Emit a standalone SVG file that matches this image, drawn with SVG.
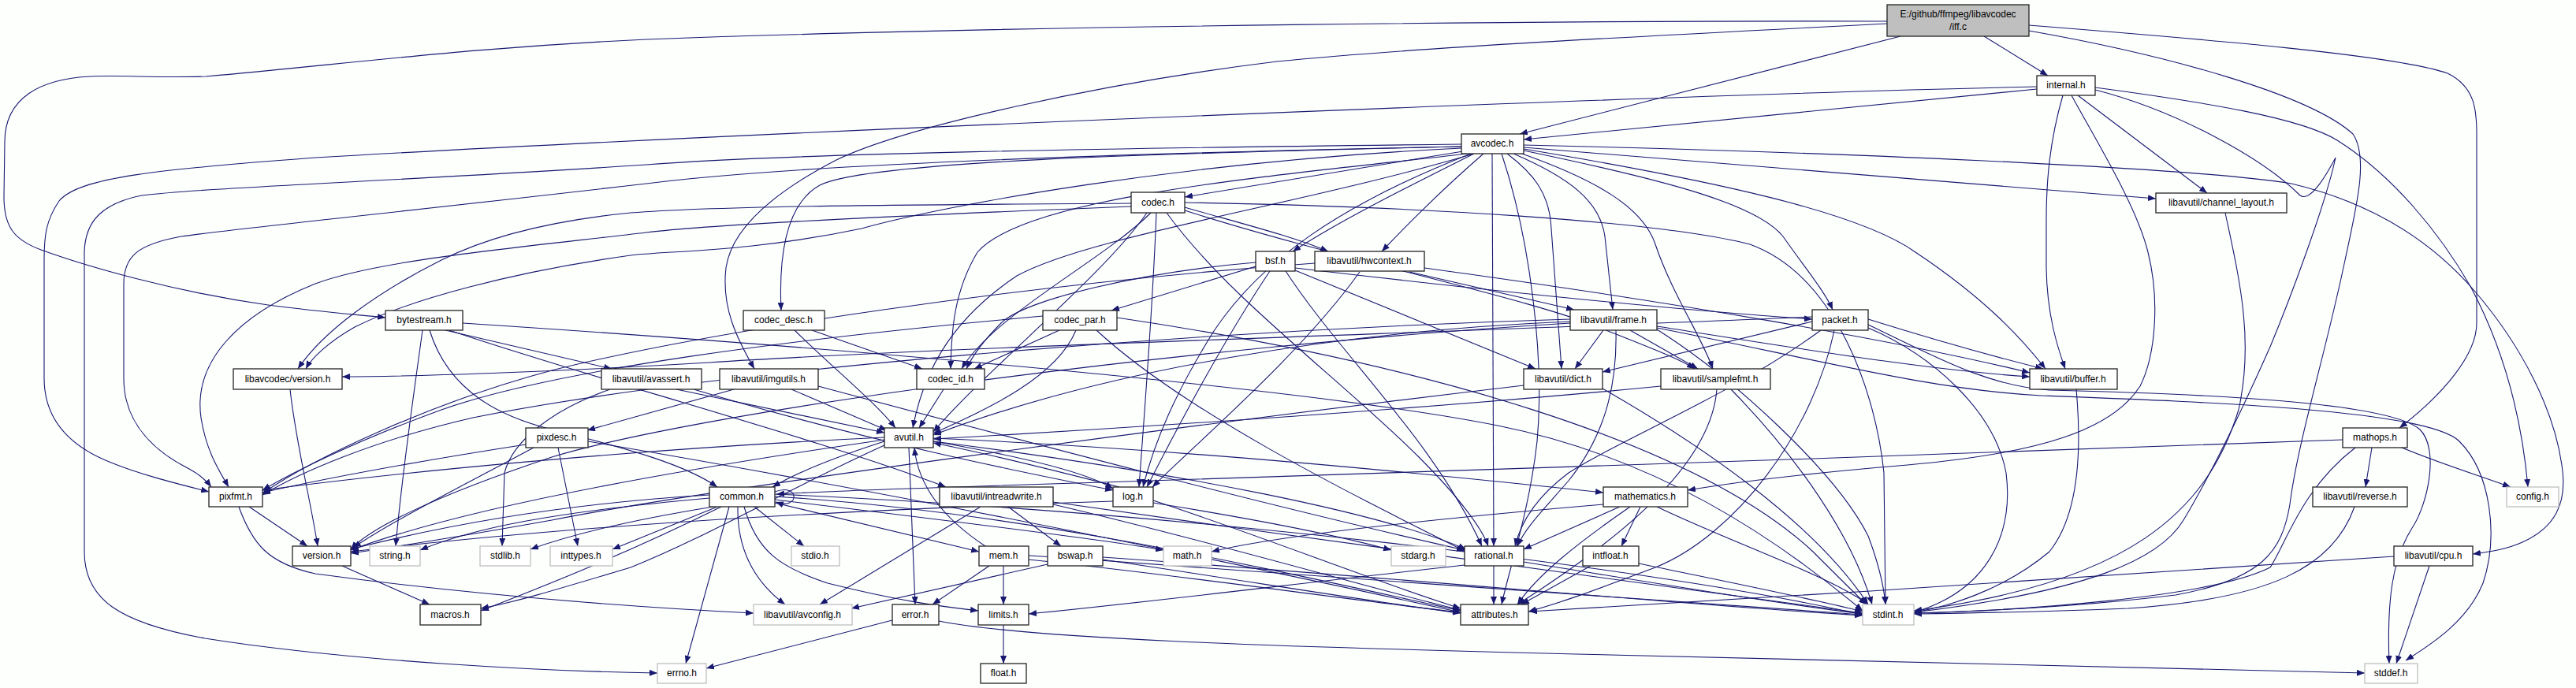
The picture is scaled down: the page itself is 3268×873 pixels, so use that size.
<svg xmlns="http://www.w3.org/2000/svg" width="3268" height="873" viewBox="0 0 3268 873">
<style>
.bg{fill:#fdfffd}
.n rect{fill:#fff;stroke:#222;stroke-width:1.3}
.n.l rect{stroke:#bfbfbf}
.n.g rect{fill:#bfbfbf}
.n text{font-family:"Liberation Sans",Arial,sans-serif;font-size:12px;fill:#000;text-anchor:middle}
.e path{fill:none;stroke:#191970;stroke-width:1.1;marker-end:url(#a)}
</style>
<defs>
<marker id="a" viewBox="0 0 10 8" refX="10" refY="4" markerWidth="10" markerHeight="8" markerUnits="userSpaceOnUse" orient="auto"><path d="M0,0L10,4L0,8z" fill="#191970"/></marker>
</defs>
<rect class="bg" width="3268" height="873"/>
<g id="edges" class="e">
<path d="M2517,46 L2598,96"/>
<path d="M2411,46 L1928,170"/>
<path d="M2394,27 C2000,26 1300,32 820,50 C600,60 450,80 261,97 C200,99 150,95 115,97 C50,100 6,125 6,180 L5,250 C5,290 20,305 52,317 C110,338 220,370 340,387 C400,395 450,399 489,403"/>
<path d="M2394,30 C2100,45 1800,60 1620,78 C1400,105 1150,160 1061,203 C980,245 928,290 921,340 C915,390 935,430 957,468"/>
<path d="M2574,39 C2750,70 2930,120 2985,170 C3005,200 2990,260 2975,330 C2950,450 2915,560 2905,640 C2895,700 2870,735 2760,755 C2620,772 2500,776 2428,778"/>
<path d="M2574,32 C2800,50 3040,70 3105,93 C3140,110 3142,140 3142,170 L3142,410 C3142,450 3100,500 3044,543"/>
<path d="M2584,113 L1933,177"/>
<path d="M2584,110 C2200,118 1000,165 400,200 C200,215 100,225 75,255 C58,280 56,300 56,330 L56,480 C56,530 85,565 141,587 C180,603 230,615 265,624"/>
<path d="M2617,121 C2600,180 2596,230 2596,280 L2596,340 C2597,400 2610,440 2620,468"/>
<path d="M2636,121 L2800,245"/>
<path d="M2628,121 C2660,180 2710,260 2725,320 C2740,380 2735,450 2715,490 C2680,545 2590,575 2420,590 C2300,600 2200,612 2141,622"/>
<path d="M2658,114 C2760,140 2870,200 2918,248 C2932,258 2955,215 2963,200 C2950,260 2905,380 2880,440 C2840,530 2800,610 2770,660 C2740,710 2650,750 2428,777"/>
<path d="M2658,111 C2800,130 2920,150 2965,178 C3035,222 3095,295 3135,365 C3180,450 3200,540 3207,618"/>
<path d="M1856,192 L1503,250"/>
<path d="M1854,183 C1400,188 1000,195 820,209 C500,230 260,238 180,248 C130,258 108,280 107,320 L107,700 C107,760 150,790 260,810 C450,840 700,852 834,854"/>
<path d="M1854,186 C1400,195 1000,210 820,233 C500,270 300,290 230,300 C175,310 157,325 157,360 L157,480 C157,540 200,575 240,595 C255,603 262,610 268,618"/>
<path d="M1854,188 C1500,205 1200,260 1093,290 C950,320 850,318 800,324 C650,345 520,380 450,415 C415,435 395,455 388,468"/>
<path d="M1854,186 C1450,195 1100,205 1040,235 C995,260 988,330 991,394"/>
<path d="M1862,195 C1600,225 1300,250 1240,320 C1210,370 1207,420 1206,468"/>
<path d="M1870,195 C1650,260 1380,300 1290,350 C1200,410 1170,480 1158,543"/>
<path d="M1866,195 C1700,260 1600,330 1540,420 C1490,500 1465,560 1450,618"/>
<path d="M1870,195 C1780,240 1700,280 1640,319"/>
<path d="M1882,195 C1830,240 1790,280 1753,319"/>
<path d="M1893,195 L1895,693"/>
<path d="M1905,195 C1940,300 1960,450 1950,560 C1940,650 1915,720 1905,767"/>
<path d="M1912,195 C1945,220 1966,245 1968,290 L1981,468"/>
<path d="M1920,195 C1990,225 2030,255 2036,300 L2046,393"/>
<path d="M1928,194 C2030,230 2085,265 2100,310 C2120,370 2160,430 2173,468"/>
<path d="M1933,191 C2120,230 2230,260 2262,300 C2290,340 2315,370 2325,393"/>
<path d="M1933,189 C2180,230 2360,270 2430,320 C2520,380 2565,430 2595,468"/>
<path d="M1933,187 L2735,252"/>
<path d="M1933,184 C2400,195 2800,215 2907,233 C3000,255 3080,300 3140,370 C3200,440 3240,520 3250,590 C3258,640 3240,670 3200,688 C3180,697 3160,700 3137,703"/>
<path d="M1455,270 C1400,350 1250,470 1184,548"/>
<path d="M1503,263 C1580,285 1640,300 1685,319"/>
<path d="M1467,270 C1462,400 1452,520 1445,618"/>
<path d="M1435,262 C1100,275 900,285 820,295 C650,315 480,330 400,360 C300,400 245,460 255,530 C262,575 280,600 290,618"/>
<path d="M1480,270 C1560,380 1700,480 1800,580 C1850,630 1880,670 1888,693"/>
<path d="M1503,267 C1700,330 1950,380 2040,420 C2090,440 2130,455 2150,468"/>
<path d="M1503,257 C1800,262 2100,280 2220,310 C2330,350 2380,500 2390,600 L2392,767"/>
<path d="M1460,270 C1400,330 1260,400 1220,468"/>
<path d="M1435,258 C1100,260 900,262 800,270 C700,280 620,300 560,330 C480,370 410,420 378,468"/>
<path d="M1008,419 C1060,470 1110,510 1136,543"/>
<path d="M1030,419 L1170,468"/>
<path d="M1197,494 L1166,543"/>
<path d="M1344,419 L1236,468"/>
<path d="M1365,419 C1340,480 1250,520 1184,550"/>
<path d="M1391,419 C1500,520 1700,620 1860,700"/>
<path d="M1323,401 C1000,430 700,470 560,520 C450,560 370,600 333,622"/>
<path d="M1417,403 C1800,460 2150,560 2300,700 C2340,740 2360,760 2368,767"/>
<path d="M1593,338 L1410,394"/>
<path d="M1593,333 C1450,345 1300,380 1270,410 C1245,435 1232,455 1226,468"/>
<path d="M1643,340 C1900,370 2150,395 2299,405"/>
<path d="M1643,343 L1948,468"/>
<path d="M1611,344 C1560,420 1500,530 1455,618"/>
<path d="M1631,344 C1700,450 1820,560 1880,693"/>
<path d="M1807,340 C2100,380 2400,430 2575,473"/>
<path d="M1788,345 L1997,393"/>
<path d="M1725,345 C1650,450 1520,560 1462,618"/>
<path d="M1668,334 C1300,360 900,420 700,470 C550,510 400,580 333,626"/>
<path d="M2370,412 C2450,450 2520,490 2600,495 C2800,500 3030,510 3070,545 C3095,570 3080,640 3060,670 C3035,710 3028,760 3031,842"/>
<path d="M2370,416 C2450,450 2530,520 2545,600 C2555,680 2520,750 2428,777"/>
<path d="M2310,419 C2200,500 2050,560 1990,600 C1950,630 1930,660 1922,693"/>
<path d="M2327,419 C2300,550 2200,680 2100,720 C2020,750 1980,765 1939,776"/>
<path d="M2370,405 C2450,430 2520,450 2592,468"/>
<path d="M2299,408 L2033,472"/>
<path d="M2299,402 C1900,420 1200,440 900,460 C700,472 520,478 434,478"/>
<path d="M1992,408 C1700,420 1400,470 1184,552"/>
<path d="M2102,414 C2300,445 2450,470 2575,478"/>
<path d="M2034,419 L1998,468"/>
<path d="M2068,419 L2154,468"/>
<path d="M2050,419 C2052,500 2030,560 1990,610 C1955,650 1935,670 1925,693"/>
<path d="M2102,418 C2200,480 2330,600 2370,680 C2385,720 2390,745 2392,767"/>
<path d="M2102,416 C2300,455 2450,495 2590,502 C2800,510 3080,520 3120,560 C3160,600 3170,680 3150,740 C3130,790 3080,820 3052,838"/>
<path d="M1992,405 C1500,420 900,470 600,530 C470,560 380,600 333,628"/>
<path d="M1992,410 C1500,440 900,520 700,580 C550,630 470,670 445,697"/>
<path d="M1933,489 C1500,540 900,620 700,660 C560,685 480,697 445,702"/>
<path d="M2033,493 C2150,560 2300,660 2370,767"/>
<path d="M2107,490 C1800,520 1400,545 1184,557"/>
<path d="M2178,494 C2170,600 2030,700 1925,767"/>
<path d="M2196,494 C2280,580 2350,680 2375,767"/>
<path d="M2634,494 C2640,560 2640,650 2600,700 C2540,750 2470,770 2428,777"/>
<path d="M2823,270 C2840,350 2860,430 2840,520 C2800,650 2700,740 2428,775"/>
<path d="M2972,558 C2500,575 1800,600 1400,612 C1200,618 1050,623 985,627"/>
<path d="M3009,568 L3001,618"/>
<path d="M3047,568 C3100,590 3150,605 3185,618"/>
<path d="M2988,568 C2920,620 2900,690 2880,720 C2800,760 2550,775 2428,778"/>
<path d="M2987,643 C2960,720 2880,760 2700,772 C2600,776 2500,778 2428,779"/>
<path d="M3037,706 C2700,730 2300,755 1940,776"/>
<path d="M3082,718 L3040,842"/>
<path d="M565,419 L776,468"/>
<path d="M545,419 C570,500 640,530 700,545 C800,570 870,590 910,618"/>
<path d="M570,419 C750,480 1050,560 1200,618"/>
<path d="M536,419 C525,500 510,600 502,693"/>
<path d="M587,410 C1200,450 1700,500 1900,540 C2100,580 2250,680 2363,775"/>
<path d="M858,494 L1122,549"/>
<path d="M880,494 C1100,560 1300,600 1412,622"/>
<path d="M774,494 C700,520 650,560 640,600 L637,693"/>
<path d="M1004,494 L1125,546"/>
<path d="M931,494 L745,546"/>
<path d="M1038,490 C1300,560 1600,640 1858,698"/>
<path d="M746,560 C1100,620 1500,700 1853,777"/>
<path d="M667,564 C500,590 400,610 333,625"/>
<path d="M677,568 C580,620 500,660 448,695"/>
<path d="M708,568 L733,693"/>
<path d="M1122,560 C1060,580 1010,600 980,618"/>
<path d="M1153,568 L1161,767"/>
<path d="M1184,560 C1500,600 1750,650 1860,697"/>
<path d="M1122,558 C900,590 600,640 445,698"/>
<path d="M1122,565 C1000,620 900,680 800,720 C700,750 650,765 610,772"/>
<path d="M1184,556 C1500,570 1800,600 2034,625"/>
<path d="M1184,560 C1300,580 1380,600 1412,620"/>
<path d="M1122,555 C800,570 500,600 333,622"/>
<path d="M1420,618 C1350,600 1250,575 1184,562"/>
<path d="M1412,636 C1000,650 700,670 445,700"/>
<path d="M1463,635 C1600,680 1750,740 1853,772"/>
<path d="M1463,638 C1600,660 1700,680 1765,698"/>
<path d="M900,628 C700,640 550,670 445,697"/>
<path d="M900,632 C700,650 600,670 533,698"/>
<path d="M905,643 C800,660 720,680 673,697"/>
<path d="M910,643 L777,697"/>
<path d="M915,643 C800,700 700,740 610,775"/>
<path d="M925,643 L870,842"/>
<path d="M936,643 C935,700 960,740 996,767"/>
<path d="M957,643 L1020,693"/>
<path d="M944,643 C960,700 990,720 1050,740 C1150,765 1200,770 1241,775"/>
<path d="M983,638 L1242,700"/>
<path d="M983,634 C1200,660 1400,685 1476,698"/>
<path d="M983,630 C1300,650 1600,720 1853,775"/>
<path d="M983,627 C1500,650 2100,720 2363,780"/>
<path d="M983,624 C1015,612 1015,648 984,637"/>
<path d="M1244,643 L1040,767"/>
<path d="M1279,643 L1346,693"/>
<path d="M1336,640 C1550,690 1750,750 1853,774"/>
<path d="M1336,637 C1700,690 2100,740 2363,778"/>
<path d="M1250,693 C1200,660 1165,620 1160,568"/>
<path d="M1255,718 L1183,767"/>
<path d="M1273,718 L1273,767"/>
<path d="M1305,710 C1500,730 1700,760 1853,777"/>
<path d="M1305,705 C1700,730 2100,760 2363,780"/>
<path d="M1329,716 L1080,772"/>
<path d="M1399,710 C1600,740 1750,765 1853,778"/>
<path d="M1399,707 C1800,735 2100,765 2363,781"/>
<path d="M1132,787 L896,848"/>
<path d="M1191,788 C1300,810 1600,820 2000,830 C2500,842 2800,850 3000,854"/>
<path d="M1273,793 L1273,842"/>
<path d="M2055,643 L1933,697"/>
<path d="M2081,643 L2057,693"/>
<path d="M2068,643 C2000,690 1950,730 1925,767"/>
<path d="M2102,643 C2200,690 2320,730 2370,767"/>
<path d="M2034,640 C1800,660 1620,680 1537,700"/>
<path d="M1895,718 L1895,767"/>
<path d="M1933,713 C2100,740 2250,765 2363,779"/>
<path d="M1858,717 C1650,740 1450,765 1305,779"/>
<path d="M2018,718 L1930,767"/>
<path d="M2079,715 C2200,740 2300,760 2363,776"/>
<path d="M368,494 C375,560 395,640 403,693"/>
<path d="M316,643 L390,693"/>
<path d="M303,643 C320,690 340,715 400,728 C600,755 800,770 956,778"/>
<path d="M434,718 L545,767"/>
</g>
<g id="n_iff" class="n g"><rect x="2394" y="6" width="180" height="40"/><text x="2484" y="22">E:/github/ffmpeg/libavcodec</text><text x="2484" y="38">/iff.c</text></g>
<g id="n_internal" class="n"><rect x="2584" y="96" width="74" height="25"/><text x="2621" y="112">internal.h</text></g>
<g id="n_avcodec" class="n"><rect x="1854" y="170" width="79" height="25"/><text x="1893" y="186">avcodec.h</text></g>
<g id="n_codec" class="n"><rect x="1435" y="244" width="68" height="26"/><text x="1469" y="261">codec.h</text></g>
<g id="n_channel_layout" class="n"><rect x="2735" y="245" width="166" height="25"/><text x="2818" y="261">libavutil/channel_layout.h</text></g>
<g id="n_bsf" class="n"><rect x="1593" y="319" width="50" height="25"/><text x="1618" y="335">bsf.h</text></g>
<g id="n_hwcontext" class="n"><rect x="1668" y="319" width="139" height="25"/><text x="1737" y="335">libavutil/hwcontext.h</text></g>
<g id="n_bytestream" class="n"><rect x="489" y="394" width="98" height="25"/><text x="538" y="410">bytestream.h</text></g>
<g id="n_codec_desc" class="n"><rect x="943" y="394" width="103" height="25"/><text x="994" y="410">codec_desc.h</text></g>
<g id="n_codec_par" class="n"><rect x="1323" y="394" width="94" height="25"/><text x="1370" y="410">codec_par.h</text></g>
<g id="n_frame" class="n"><rect x="1992" y="393" width="110" height="26"/><text x="2047" y="410">libavutil/frame.h</text></g>
<g id="n_packet" class="n"><rect x="2299" y="393" width="71" height="26"/><text x="2334" y="410">packet.h</text></g>
<g id="n_lavc_version" class="n"><rect x="296" y="468" width="138" height="26"/><text x="365" y="485">libavcodec/version.h</text></g>
<g id="n_avassert" class="n"><rect x="763" y="468" width="127" height="26"/><text x="826" y="485">libavutil/avassert.h</text></g>
<g id="n_imgutils" class="n"><rect x="913" y="468" width="125" height="26"/><text x="975" y="485">libavutil/imgutils.h</text></g>
<g id="n_codec_id" class="n"><rect x="1163" y="468" width="86" height="26"/><text x="1206" y="485">codec_id.h</text></g>
<g id="n_dict" class="n"><rect x="1933" y="468" width="100" height="26"/><text x="1983" y="485">libavutil/dict.h</text></g>
<g id="n_samplefmt" class="n"><rect x="2107" y="468" width="139" height="26"/><text x="2176" y="485">libavutil/samplefmt.h</text></g>
<g id="n_buffer" class="n"><rect x="2575" y="468" width="111" height="26"/><text x="2630" y="485">libavutil/buffer.h</text></g>
<g id="n_pixdesc" class="n"><rect x="667" y="543" width="79" height="25"/><text x="706" y="559">pixdesc.h</text></g>
<g id="n_avutil" class="n"><rect x="1122" y="543" width="62" height="25"/><text x="1153" y="559">avutil.h</text></g>
<g id="n_mathops" class="n"><rect x="2972" y="543" width="82" height="25"/><text x="3013" y="559">mathops.h</text></g>
<g id="n_pixfmt" class="n"><rect x="265" y="618" width="68" height="25"/><text x="299" y="634">pixfmt.h</text></g>
<g id="n_common" class="n"><rect x="900" y="618" width="83" height="25"/><text x="941" y="634">common.h</text></g>
<g id="n_intreadwrite" class="n"><rect x="1192" y="618" width="144" height="25"/><text x="1264" y="634">libavutil/intreadwrite.h</text></g>
<g id="n_log" class="n"><rect x="1412" y="618" width="51" height="25"/><text x="1437" y="634">log.h</text></g>
<g id="n_mathematics" class="n"><rect x="2034" y="618" width="107" height="25"/><text x="2087" y="634">mathematics.h</text></g>
<g id="n_reverse" class="n"><rect x="2934" y="618" width="120" height="25"/><text x="2994" y="634">libavutil/reverse.h</text></g>
<g id="n_config" class="n l"><rect x="3180" y="618" width="66" height="25"/><text x="3213" y="634">config.h</text></g>
<g id="n_version" class="n"><rect x="371" y="693" width="74" height="25"/><text x="408" y="709">version.h</text></g>
<g id="n_string" class="n l"><rect x="469" y="693" width="64" height="25"/><text x="501" y="709">string.h</text></g>
<g id="n_stdlib" class="n l"><rect x="609" y="693" width="64" height="25"/><text x="641" y="709">stdlib.h</text></g>
<g id="n_inttypes" class="n l"><rect x="698" y="693" width="79" height="25"/><text x="737" y="709">inttypes.h</text></g>
<g id="n_stdio" class="n l"><rect x="1004" y="693" width="61" height="25"/><text x="1034" y="709">stdio.h</text></g>
<g id="n_mem" class="n"><rect x="1242" y="693" width="63" height="25"/><text x="1273" y="709">mem.h</text></g>
<g id="n_bswap" class="n"><rect x="1329" y="693" width="70" height="25"/><text x="1364" y="709">bswap.h</text></g>
<g id="n_math" class="n l"><rect x="1476" y="693" width="61" height="25"/><text x="1506" y="709">math.h</text></g>
<g id="n_stdarg" class="n l"><rect x="1765" y="693" width="69" height="25"/><text x="1799" y="709">stdarg.h</text></g>
<g id="n_rational" class="n"><rect x="1858" y="693" width="75" height="25"/><text x="1895" y="709">rational.h</text></g>
<g id="n_intfloat" class="n"><rect x="2008" y="693" width="71" height="25"/><text x="2043" y="709">intfloat.h</text></g>
<g id="n_cpu" class="n"><rect x="3037" y="693" width="100" height="25"/><text x="3087" y="709">libavutil/cpu.h</text></g>
<g id="n_macros" class="n"><rect x="533" y="767" width="77" height="26"/><text x="571" y="784">macros.h</text></g>
<g id="n_avconfig" class="n l"><rect x="956" y="767" width="125" height="26"/><text x="1018" y="784">libavutil/avconfig.h</text></g>
<g id="n_error" class="n"><rect x="1132" y="767" width="59" height="26"/><text x="1161" y="784">error.h</text></g>
<g id="n_limits" class="n"><rect x="1241" y="767" width="64" height="26"/><text x="1273" y="784">limits.h</text></g>
<g id="n_attributes" class="n"><rect x="1853" y="767" width="86" height="26"/><text x="1896" y="784">attributes.h</text></g>
<g id="n_stdint" class="n l"><rect x="2363" y="767" width="65" height="26"/><text x="2395" y="784">stdint.h</text></g>
<g id="n_errno" class="n l"><rect x="834" y="842" width="62" height="25"/><text x="865" y="858">errno.h</text></g>
<g id="n_float" class="n"><rect x="1244" y="842" width="58" height="25"/><text x="1273" y="858">float.h</text></g>
<g id="n_stddef" class="n l"><rect x="3000" y="842" width="67" height="25"/><text x="3033" y="858">stddef.h</text></g>
</svg>
